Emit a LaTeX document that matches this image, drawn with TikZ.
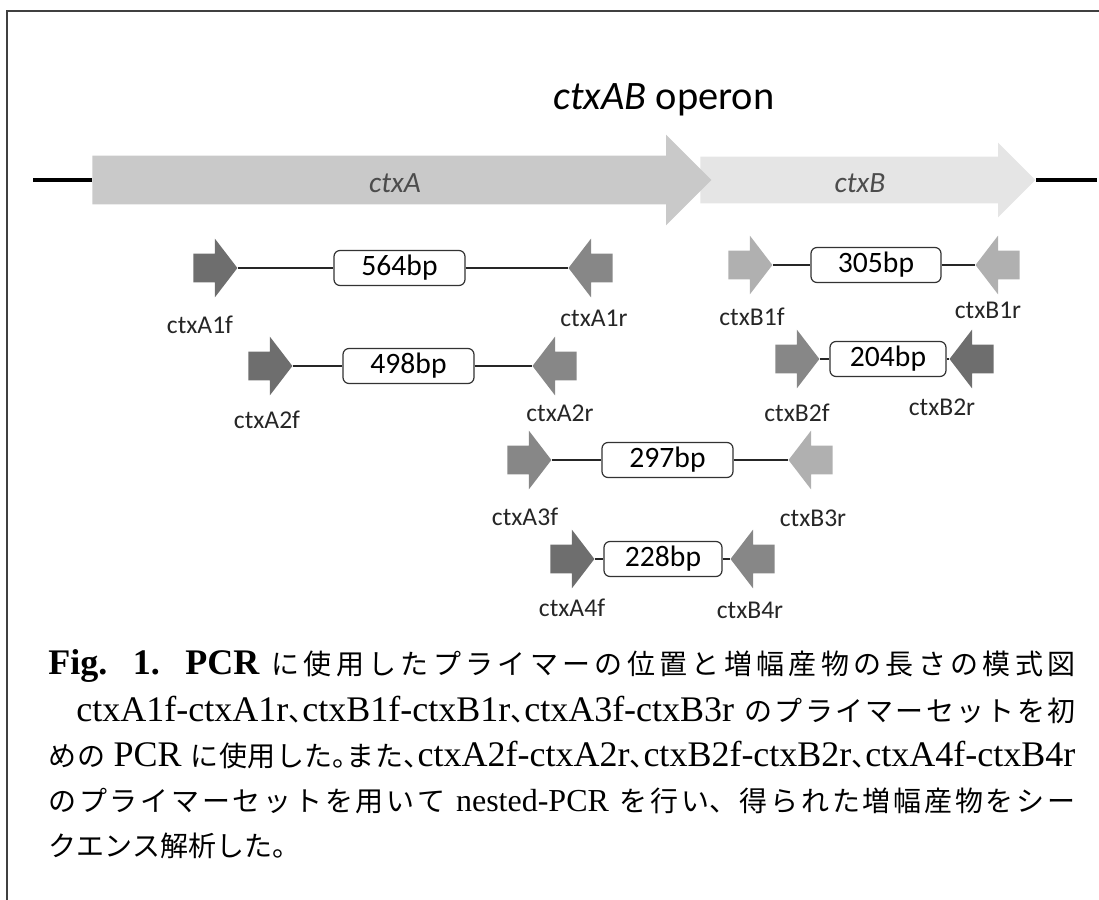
\documentclass[tikz,border=0pt]{standalone}
\usepackage{fontspec}
\newfontfamily\cjk[Scale=0.875]{Noto Sans CJK JP}
\newfontfamily\calib{Carlito}
\newfontfamily\capfont{Liberation Serif}
\usepackage{tikz}
\usetikzlibrary{positioning}
\usetikzlibrary{shapes.arrows}
\newcommand{\jp}[1]{{\fontsize{16}{22.5}\selectfont\cjk #1}}
\newcommand{\hw}[1]{\makebox[7pt][l]{\fontsize{16}{22.5}\selectfont\cjk #1}}
\newcommand{\lt}[1]{{\fontsize{18}{22.5}\selectfont #1}}
\colorlet{pdark}{black!57}
\colorlet{pmid}{black!47}
\colorlet{plight}{black!31}
\XeTeXlinebreaklocale "ja"
\XeTeXlinebreakskip=0pt plus 2pt

\begin{document}
\begin{tikzpicture}[x=0.5pt,y=-0.5pt,
  gene/.style={single arrow,draw=none,inner xsep=0pt,single arrow tip angle=90,anchor=tail},
  primer/.style={single arrow,draw=none,inner xsep=0pt,inner ysep=7pt,minimum height=22pt,
    minimum width=29pt,single arrow head extend=7.5pt,single arrow tip angle=105},
  fwd/.style={primer,anchor=tail},
  rev/.style={primer,shape border rotate=180,anchor=tip},
  ampbox/.style={draw=black!80,line width=0.6pt,rounded corners=3pt,minimum height=17.5pt,
    inner sep=0pt,font=\calib\fontsize{14.8}{16}\selectfont},
  amp/.style={black!85,line width=0.6pt},
  plabel/.style={font=\calib\fontsize{12.8}{14}\selectfont,text=black!85},
  captext/.style={inner sep=0pt,text width=513.5pt,align=justify},
  dna/.style={line width=1.6pt,black}]
  \useasboundingbox (0,0) rectangle (1099,900);
  % frame, only top and left edge show
  \draw[black!75,line width=0.8pt] (7,900) -- (7,11) -- (1099,11);
  % operon title
  \node[font=\calib\fontsize{20.2}{24}\selectfont] (operon) at (664,100) {\textit{ctxAB} operon};
  % genes (ctxB first, ctxA head lies on top)
  \node[gene,fill=black!10,inner ysep=11.5pt,minimum height=167.5pt,minimum width=37pt,single arrow head extend=7pt] (ctxb) at (700,180) {};
  \node[gene,fill=black!21,inner ysep=12pt,minimum height=309.5pt,minimum width=45pt,single arrow head extend=10.5pt] (ctxa) at (92,180) {};
  \node[font=\calib\itshape\fontsize{14.7}{16}\selectfont,text=black!70] (la) at (395,183) {ctxA};
  \node[font=\calib\itshape\fontsize{14.7}{16}\selectfont,text=black!70] (lb) at (860,183) {ctxB};
  % flanking DNA
  \coordinate (dnal) at (33,180);
  \coordinate (dnar) at (1097,180);
  \draw[dna] (dnal) -- (ctxa.tail);
  \draw[dna] (ctxb.tip) -- (dnar);
  % ctxA1f - ctxA1r
  \node[fwd,fill=pdark] (A1f) at (193,268) {};
  \node[rev,fill=pmid] (A1r) at (568,268) {};
  \node[ampbox,minimum width=65.5pt] (b564) at (399.5,268) {564bp};
  \draw[amp] (A1f.tip) -- (b564.west) (b564.east) -- (A1r.tip);
  \node[plabel] (tA1f) at (200,325) {ctxA1f};
  \node[plabel] (tA1r) at (594,318) {ctxA1r};
  % ctxA2f - ctxA2r
  \node[fwd,fill=pdark] (A2f) at (248,366) {};
  \node[rev,fill=pmid] (A2r) at (532,366) {};
  \node[ampbox,minimum width=65.5pt] (b498) at (408.5,366) {498bp};
  \draw[amp] (A2f.tip) -- (b498.west) (b498.east) -- (A2r.tip);
  \node[plabel] (tA2f) at (267,420) {ctxA2f};
  \node[plabel] (tA2r) at (560,413) {ctxA2r};
  % ctxB1f - ctxB1r
  \node[fwd,fill=plight] (B1f) at (728,265) {};
  \node[rev,fill=plight] (B1r) at (975,265) {};
  \node[ampbox,minimum width=65pt] (b305) at (876,265) {305bp};
  \draw[amp] (B1f.tip) -- (b305.west) (b305.east) -- (B1r.tip);
  \node[plabel] (tB1f) at (752,317) {ctxB1f};
  \node[plabel] (tB1r) at (988,310) {ctxB1r};
  % ctxB2f - ctxB2r
  \node[fwd,fill=pmid] (B2f) at (775,359) {};
  \node[rev,fill=pdark] (B2r) at (949,359) {};
  \node[ampbox,minimum width=58pt] (b204) at (888,359) {204bp};
  \draw[amp] (B2f.tip) -- (b204.west) (b204.east) -- (B2r.tip);
  \node[plabel] (tB2f) at (797,413) {ctxB2f};
  \node[plabel] (tB2r) at (942,407) {ctxB2r};
  % ctxA3f - ctxB3r
  \node[fwd,fill=pmid] (A3f) at (507,460) {};
  \node[rev,fill=plight] (B3r) at (788,460) {};
  \node[ampbox,minimum width=65.5pt] (b297) at (667.5,460) {297bp};
  \draw[amp] (A3f.tip) -- (b297.west) (b297.east) -- (B3r.tip);
  \node[plabel] (tA3f) at (525,517) {ctxA3f};
  \node[plabel] (tB3r) at (813,518) {ctxB3r};
  % ctxA4f - ctxB4r
  \node[fwd,fill=pdark] (A4f) at (550,559) {};
  \node[rev,fill=pmid] (B4r) at (730,559) {};
  \node[ampbox,minimum width=59pt] (b228) at (663,559) {228bp};
  \draw[amp] (A4f.tip) -- (b228.west) (b228.east) -- (B4r.tip);
  \node[plabel] (tA4f) at (572,608) {ctxA4f};
  \node[plabel] (tB4r) at (750,610) {ctxB4r};
  % caption
  \node[captext,anchor=base west] (figcap) at (48,674)
    {\capfont\fontsize{16}{22.5}\selectfont\parfillskip=0pt
     \lt{\bfseries\spaceskip=0.3em plus 0.1em Fig. 1. PCR} \jp{に使用したプライマーの位置と増幅産物の長さの模式図}\par};
  \node[captext,anchor=north west] (figtext) at (48,696)
    {\capfont\fontsize{16}{22.5}\selectfont\hyphenpenalty=10000\relax
     \hspace*{14pt}\lt{ctxA1f-ctxA1r}\hw{、}\lt{ctxB1f-ctxB1r}\hw{、}\lt{ctxA3f-ctxB3r} \jp{のプライマーセットを初}\linebreak
     \jp{めの} \lt{PCR} \jp{に使用した}\hw{。}\jp{また}\hw{、}\lt{ctxA2f-ctxA2r}\hw{、}\lt{ctxB2f-ctxB2r}\hw{、}\lt{ctxA4f-ctxB4r}\linebreak
     \jp{のプライマーセットを用いて} nested-PCR \jp{を行い、得られた増幅産物をシー}\linebreak
     \jp{クエンス解析した。}\par};
\end{tikzpicture}
\end{document}
